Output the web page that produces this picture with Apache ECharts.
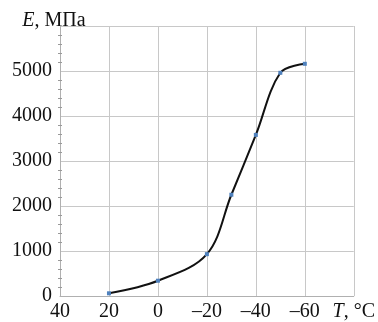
<!DOCTYPE html>
<html>
<head>
<meta charset="utf-8">
<script src="https://cdn.jsdelivr.net/npm/echarts@6/dist/echarts.min.js"></script>
<style>
  html, body { margin: 0; padding: 0; background: #fff; }
  #chart { width: 378px; height: 322px; }
</style>
</head>
<body>
<div id="chart"></div>
<script>
// temperature, °C and modulus, MPa
const temps = [20, 0, -20, -30, -40, -50, -60];
const modulus = [60, 340, 930, 2250, 3580, 4960, 5160];
const xTicks = [40, 20, 0, -20, -40, -60, -80];
const yTicks = [0, 1000, 2000, 3000, 4000, 5000, 6000];

const font = 'Liberation Serif, Times New Roman, serif';
const fs = 20;
const gridColor = '#c8c8c8';

const myChart = echarts.init(document.getElementById('chart'));

const yBase = {
  type: 'value',
  min: yTicks[0],
  max: yTicks[yTicks.length - 1],
  interval: 1000,
  position: 'left',
  minorTick: { show: true, splitNumber: 5, length: 2, lineStyle: { color: '#999' } },
  minorSplitLine: { show: false }
};

myChart.setOption({
  animation: false,
  grid: { left: 60, top: 26, right: 24, bottom: 26 },
  xAxis: {
    type: 'value',
    inverse: true,
    min: xTicks[xTicks.length - 1],
    max: xTicks[0],
    interval: 20,
    axisLine: { show: true, onZero: false, lineStyle: { color: '#b0b0b0' } },
    axisTick: { show: false },
    splitLine: { show: true, lineStyle: { color: gridColor, width: 1 } },
    axisLabel: {
      margin: 6,
      fontFamily: font,
      fontSize: fs,
      color: '#111',
      showMinLabel: true,
      showMaxLabel: true,
      formatter: function (v) {
        if (v === -80) return '{i|T}, °C';
        return v < 0 ? '–' + Math.abs(v) : String(v);
      },
      rich: {
        i: { fontFamily: font, fontSize: fs, fontStyle: 'italic', color: '#111' }
      }
    }
  },
  yAxis: [
    Object.assign({}, yBase, {
      name: '{i|E}, МПа',
      nameLocation: 'end',
      nameGap: 5,
      nameTextStyle: {
        fontFamily: font,
        fontSize: fs,
        color: '#111',
        align: 'center',
        verticalAlign: 'middle',
        padding: [0, 12, 0, 0],
        rich: {
          i: { fontFamily: font, fontSize: fs, fontStyle: 'italic', color: '#111' }
        }
      },
      axisLine: { show: true, onZero: false, lineStyle: { color: '#b0b0b0', width: 1 } },
      axisTick: { show: false },
      splitLine: { show: true, lineStyle: { color: gridColor, width: 1 } },
      axisLabel: {
        margin: 8,
        fontFamily: font,
        fontSize: fs,
        color: '#111',
        formatter: function (v) { return v === 6000 ? '' : String(v); }
      }
    }),
    Object.assign({}, yBase, {
      axisLine: { show: false, onZero: false },
      axisTick: { show: false, inside: true },
      axisLabel: { show: false },
      splitLine: { show: false }
    })
  ],
  series: [{
    type: 'line',
    data: temps.map((t, i) => [t, modulus[i]]),
    smooth: 0.35,
    symbol: 'rect',
    symbolSize: 4,
    showSymbol: true,
    lineStyle: { color: '#111', width: 2 },
    itemStyle: { color: '#4f81bd', borderWidth: 0 },
    z: 3
  }]
});

window.addEventListener('resize', function () {
  myChart.resize();
});
</script>
</body>
</html>
